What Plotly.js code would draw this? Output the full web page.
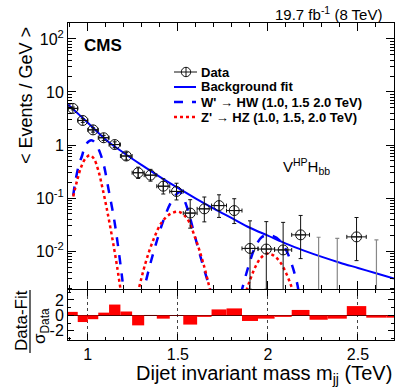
<!DOCTYPE html>
<html>
<head>
<meta charset="utf-8">
<script src="https://cdn.plot.ly/plotly-3.0.1.min.js"></script>
<style>
  html, body { margin: 0; padding: 0; background: #fff; }
  #chart { width: 407px; height: 391px; }
</style>
</head>
<body>
<div id="chart"></div>
<script>
// dijet mass bin edges (TeV)
const binEdges = [0.890, 0.944, 1.000, 1.058, 1.118, 1.181, 1.246, 1.313, 1.383, 1.455, 1.530,
                  1.607, 1.687, 1.770, 1.856, 1.945, 2.037, 2.132, 2.231, 2.332, 2.438, 2.546,
                  2.659, 2.775];

// data, events / GeV (0 = empty bin)
const dataY = [4.9, 2.9, 1.93, 1.37, 1.02, 0.62, 0.30, 0.27, 0.167, 0.133, 0.052,
               0.0625, 0.072, 0.058, 0.0112, 0.0109, 0.0105, 0.0202, 0, 0, 0.0185, 0];
const dataErrUp = [0.30, 0.23, 0.18, 0.15, 0.127, 0.097, 0.082, 0.077, 0.064, 0.057, 0.041,
                   0.042, 0.043, 0.039, 0.0259, 0.025, 0.0242, 0.0267, 0.0182, 0.0174, 0.0244, 0.0163];
const dataErrDn = [0.30, 0.23, 0.18, 0.15, 0.127, 0.097, 0.066, 0.062, 0.048, 0.041, 0.025,
                   0.027, 0.029, 0.025, 0.0093, 0.009, 0.0087, 0.013, 0, 0, 0.0119, 0];

// background fit
const fitX = [0.89, 1.0, 1.1, 1.2, 1.3, 1.4, 1.5, 1.6, 1.7, 1.8, 1.9, 2.0, 2.1, 2.2, 2.3, 2.4, 2.5, 2.6, 2.7];
const fitY = [5.82, 2.63, 1.26, 0.708, 0.417, 0.251, 0.155, 0.0977, 0.0631, 0.0417, 0.0275,
              0.0195, 0.0138, 0.0102, 0.00776, 0.00603, 0.00479, 0.0038, 0.00302];

// W' -> HW signal shapes (1.0, 1.5, 2.0 TeV)
const wprimeX = [0.919, 0.932, 0.950, 0.969, 0.987, 1.019, 1.043, 1.066, 1.089, 1.116, 1.144, 1.166, 1.19, 1.205, null,
                 1.30, 1.347, 1.384, 1.42, 1.458, 1.495, 1.513, 1.55, 1.596, 1.642, 1.695, null,
                 1.85, 1.891, 1.928, 1.965, 1.993, 2.03, 2.066, 2.103, 2.159, 2.175];
const wprimeY = [0.112, 0.216, 0.417, 0.641, 1.0, 1.233, 1.072, 0.741, 0.417, 0.140, 0.0437, 0.0138, 0.00324, 0.0012, null,
                 0.0013, 0.00575, 0.0158, 0.038, 0.0783, 0.121, 0.130, 0.0676, 0.0182, 0.0050, 0.0013, null,
                 0.00158, 0.0050, 0.0117, 0.0182, 0.0197, 0.0191, 0.0158, 0.0102, 0.00275, 0.0013];

// Z' -> HZ signal shapes (1.0, 1.5, 2.0 TeV)
const zprimeX = [0.919, 0.941, 0.963, 0.987, 1.011, 1.033, 1.058, 1.080, 1.107, 1.135, 1.163, 1.19, null,
                 1.27, 1.319, 1.365, 1.412, 1.458, 1.504, 1.55, 1.596, 1.642, 1.69, null,
                 1.87, 1.90, 1.93, 1.96, 1.993, 2.03, 2.066, 2.103, 2.131, 2.145];
const zprimeY = [0.107, 0.216, 0.385, 0.556, 0.641, 0.556, 0.334, 0.162, 0.0589, 0.0182, 0.0050, 0.0012, null,
                 0.00126, 0.00575, 0.0166, 0.0355, 0.0501, 0.055, 0.0417, 0.0178, 0.00575, 0.00126, null,
                 0.0014, 0.0028, 0.0050, 0.0074, 0.0089, 0.0083, 0.0063, 0.0037, 0.0021, 0.0014];

// (Data - Fit) / sigma_Data
const pull = [0.45, -0.87, -0.5, 0.35, 1.4, 0.5, -1.3, 0.05, -0.43, -0.05, -1.2, -0.2,
              0.77, 0.9, -0.73, -0.43, -0.2, 0.7, -0.57, -0.43, 1.2, -0.3, -0.3];

const centers = [], widths = [];
for (let i = 0; i < binEdges.length - 1; i++) {
    centers.push((binEdges[i] + binEdges[i + 1]) / 2);
    widths.push(binEdges[i + 1] - binEdges[i]);
}

// split filled and empty bins
const full = { x: [], y: [], ex: [], up: [], dn: [] };
const empty = { x: [], y: [] };
dataY.forEach((v, i) => {
    if (v > 0) {
        full.x.push(centers[i]); full.y.push(v); full.ex.push(widths[i] / 2);
        full.up.push(dataErrUp[i]); full.dn.push(dataErrDn[i]);
    } else {
        empty.x.push(centers[i]); empty.y.push(dataErrUp[i]);
    }
});

const FONT = 'Liberation Sans, Arial, Helvetica, sans-serif';
const L = 68, R = 394, T = 23, B = 340;
function px(x) { return (x - L) / (R - L); }
function py(y) { return (B - y) / (B - T); }

const traces = [
    {
        x: fitX, y: fitY, xaxis: 'x', yaxis: 'y', type: 'scatter', mode: 'lines',
        line: { color: '#0000ff', width: 2, shape: 'spline' }, name: 'Background fit'
    },
    {
        x: wprimeX, y: wprimeY, xaxis: 'x', yaxis: 'y', type: 'scatter', mode: 'lines',
        line: { color: '#0000ff', width: 2.5, dash: 'dash', shape: 'spline' }, name: "W'"
    },
    {
        x: zprimeX, y: zprimeY, xaxis: 'x', yaxis: 'y', type: 'scatter', mode: 'lines',
        line: { color: '#ff0000', width: 2.5, dash: 'dot', shape: 'spline' }, name: "Z'"
    },
    {
        x: empty.x, y: empty.y, xaxis: 'x', yaxis: 'y', type: 'scatter', mode: 'markers',
        marker: { size: 1, color: 'rgba(0,0,0,0)' },
        error_y: { type: 'data', symmetric: false, array: empty.y.map(() => 0), arrayminus: empty.y,
                   color: '#888888', thickness: 1.2, width: 2 }
    },
    {
        x: full.x, y: full.y, xaxis: 'x', yaxis: 'y', type: 'scatter', mode: 'markers',
        marker: { symbol: 'circle-cross-open', size: 10, color: '#111', line: { width: 1 } },
        error_y: { type: 'data', symmetric: false, array: full.up, arrayminus: full.dn,
                   color: '#111', thickness: 1, width: 2 },
        error_x: { type: 'data', array: full.ex, color: '#111', thickness: 1, width: 2 },
        name: 'Data'
    },
    {
        x: centers, y: pull, width: widths, xaxis: 'x2', yaxis: 'y2', type: 'bar',
        marker: { color: '#ff0000', line: { width: 0 } }
    }
];

const logMinor = [];
for (let e = -3; e <= 2; e++) for (let k = 2; k <= 9; k++) logMinor.push(k * Math.pow(10, e));

const axisCommon = {
    showline: true, linecolor: '#000', linewidth: 1, mirror: 'allticks',
    ticks: 'inside', tickcolor: '#000', tickfont: { family: FONT, size: 16, color: '#000' }
};

const layout = {
    width: 407, height: 391,
    margin: { l: L, r: 407 - R, t: T, b: 391 - B },
    paper_bgcolor: '#fff', plot_bgcolor: '#fff',
    showlegend: false,
    font: { family: FONT, color: '#000' },
    xaxis: Object.assign({}, axisCommon, {
        domain: [0, 1], anchor: 'y', range: [0.89, 2.7], showticklabels: false,
        tickmode: 'linear', tick0: 0, dtick: 0.5, ticklen: 8, showgrid: false, zeroline: false,
        minor: { dtick: 0.1, tick0: 0, ticks: 'inside', ticklen: 4, tickcolor: '#000' }
    }),
    yaxis: Object.assign({}, axisCommon, {
        domain: [0.16, 1], anchor: 'x', type: 'log', range: [Math.log10(0.0019), Math.log10(200)],
        tickmode: 'array', tickvals: [0.01, 0.1, 1, 10, 100],
        ticktext: ['10<sup>-2</sup>', '10<sup>-1</sup>', '1', '10', '10<sup>2</sup>'],
        ticklen: 8, showgrid: false, zeroline: false,
        minor: { tickmode: 'array', tickvals: logMinor, ticks: 'inside', ticklen: 4, tickcolor: '#000' }
    }),
    xaxis2: Object.assign({}, axisCommon, {
        domain: [0, 1], anchor: 'y2', matches: 'x', range: [0.89, 2.7],
        tickmode: 'linear', tick0: 0, dtick: 0.5, ticklen: 6,
        showgrid: true, gridcolor: '#444', griddash: 'dot', gridwidth: 1, zeroline: false,
        minor: { dtick: 0.1, tick0: 0, ticks: 'inside', ticklen: 3, tickcolor: '#000' }
    }),
    yaxis2: Object.assign({}, axisCommon, {
        domain: [0, 0.158], anchor: 'x2', range: [-3.2, 3.3],
        tickmode: 'array', tickvals: [-2, 0, 2], ticktext: ['-2', '0', '2'], ticklen: 6,
        showgrid: false, zeroline: true, zerolinecolor: '#000', zerolinewidth: 1,
        minor: { tickmode: 'array', tickvals: [-3, -1, 1, 3], ticks: 'inside', ticklen: 3, tickcolor: '#000' }
    }),
    annotations: [
        { text: '19.7 fb<sup>-1</sup> (8 TeV)', xref: 'paper', yref: 'paper', x: px(384), y: py(14),
          xanchor: 'right', yanchor: 'middle', showarrow: false, font: { family: FONT, size: 15 } },
        { text: '<b>CMS</b>', xref: 'paper', yref: 'paper', x: px(82), y: py(45),
          xanchor: 'left', yanchor: 'middle', showarrow: false, font: { family: FONT, size: 17 } },
        { text: 'V<sup>HP</sup>H<sub>bb</sub>', xref: 'paper', yref: 'paper', x: px(306), y: py(167),
          xanchor: 'center', yanchor: 'middle', showarrow: false, font: { family: FONT, size: 15 } },
        { text: '<b>Data</b>', xref: 'paper', yref: 'paper', x: px(199), y: py(72),
          xanchor: 'left', yanchor: 'middle', showarrow: false, font: { family: FONT, size: 13 } },
        { text: '<b>Background fit</b>', xref: 'paper', yref: 'paper', x: px(199), y: py(87),
          xanchor: 'left', yanchor: 'middle', showarrow: false, font: { family: FONT, size: 13 } },
        { text: "<b>W' → HW (1.0, 1.5 2.0 TeV)</b>", xref: 'paper', yref: 'paper', x: px(199), y: py(102),
          xanchor: 'left', yanchor: 'middle', showarrow: false, font: { family: FONT, size: 13 } },
        { text: "<b>Z' → HZ (1.0, 1.5, 2.0 TeV)</b>", xref: 'paper', yref: 'paper', x: px(199), y: py(117),
          xanchor: 'left', yanchor: 'middle', showarrow: false, font: { family: FONT, size: 13 } },
        { text: '< Events / GeV >', xref: 'paper', yref: 'paper', x: px(26), y: py(96),
          xanchor: 'center', yanchor: 'middle', textangle: -90, showarrow: false, font: { family: FONT, size: 18 } },
        { text: 'Data-Fit', xref: 'paper', yref: 'paper', x: px(21), y: py(321),
          xanchor: 'center', yanchor: 'middle', textangle: -90, showarrow: false, font: { family: FONT, size: 17 } },
        { text: 'σ<sub>Data</sub>', xref: 'paper', yref: 'paper', x: px(41), y: py(326),
          xanchor: 'center', yanchor: 'middle', textangle: -90, showarrow: false, font: { family: FONT, size: 17 } },
        { text: 'Dijet invariant mass m<sub>jj</sub> (TeV)', xref: 'paper', yref: 'paper', x: px(394), y: py(374),
          xanchor: 'right', yanchor: 'middle', showarrow: false, font: { family: FONT, size: 20 } }
    ],
    shapes: [
        // fraction bar of the pull title
        { type: 'line', xref: 'paper', yref: 'paper', x0: px(30), x1: px(30), y0: py(290), y1: py(353),
          line: { color: '#000', width: 1.2 } },
        // legend symbols
        { type: 'line', xref: 'paper', yref: 'paper', x0: px(174), x1: px(197), y0: py(72), y1: py(72),
          line: { color: '#111', width: 1 } },
        { type: 'circle', xref: 'paper', yref: 'paper', x0: px(181.3), x1: px(190.7), y0: py(76.7), y1: py(67.3),
          line: { color: '#111', width: 1 }, fillcolor: 'rgba(0,0,0,0)' },
        { type: 'line', xref: 'paper', yref: 'paper', x0: px(186), x1: px(186), y0: py(67.3), y1: py(76.7),
          line: { color: '#111', width: 1 } },
        { type: 'line', xref: 'paper', yref: 'paper', x0: px(174), x1: px(196), y0: py(87), y1: py(87),
          line: { color: '#0000ff', width: 2 } },
        { type: 'line', xref: 'paper', yref: 'paper', x0: px(174), x1: px(196), y0: py(102), y1: py(102),
          line: { color: '#0000ff', width: 2.5, dash: 'dash' } },
        { type: 'line', xref: 'paper', yref: 'paper', x0: px(174), x1: px(196), y0: py(117), y1: py(117),
          line: { color: '#ff0000', width: 2.5, dash: 'dot' } }
    ]
};

Plotly.newPlot('chart', traces, layout, { staticPlot: true, displayModeBar: false });
</script>
</body>
</html>
